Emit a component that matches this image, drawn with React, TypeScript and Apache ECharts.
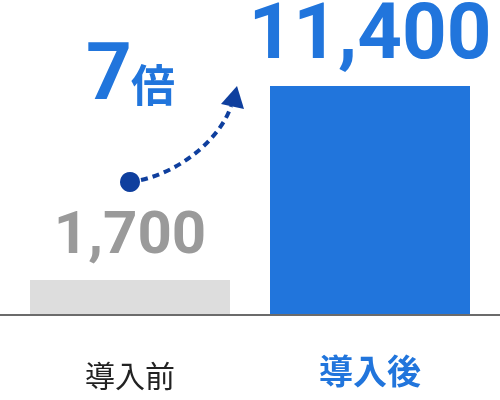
import React, { useEffect, useRef } from "react";
import * as echarts from "echarts";

const categories = ["導入前", "導入後"];
const values = [1700, 11400];
const ratioLabel = "7";
const ratioUnit = "倍";

const BLUE = "#2175dc";
const DARK_BLUE = "#0f3f9e";

export default function App() {
  const ref = useRef<HTMLDivElement>(null);
  useEffect(() => {
    if (!ref.current) return;
    const chart = echarts.init(ref.current, undefined, { renderer: "svg" });
    chart.setOption({
      animation: false,
      grid: { left: 10, right: 10, top: 14, bottom: 86 },
      xAxis: {
        type: "category",
        data: categories,
        axisLine: { show: false },
        axisTick: { show: false },
        axisLabel: {
          margin: 38,
          formatter: (v: string, i: number) => (i === 1 ? `{b|${v}}` : `{a|${v}}`),
          rich: {
            a: { fontSize: 30, color: "#222", fontFamily: "Noto Sans CJK JP", fontWeight: "normal", padding: [7, 0, 0, 0] },
            b: { fontSize: 34, color: BLUE, fontFamily: "Noto Sans CJK JP", fontWeight: "bold" },
          },
        },
      },
      yAxis: { type: "value", min: 0, max: 15000, show: false },
      series: [
        {
          type: "bar",
          barWidth: 200,
          data: values.map((v, i) => ({
            value: v,
            itemStyle: { color: i === 0 ? "#dddddd" : BLUE },
            label: {
              show: true,
              position: "top",
              distance: i === 0 ? 18 : 16,
              fontFamily: "Roboto",
              fontWeight: "bold",
              fontSize: i === 0 ? 60 : 78,
              color: i === 0 ? "#9a9a9a" : BLUE,
              formatter: (p: any) => Number(p.value).toLocaleString("en-US"),
            },
          })),
        },
      ],
      graphic: [
        {
          type: "line",
          shape: { x1: 0, y1: 315, x2: 500, y2: 315 },
          style: { stroke: "#6b6b6b", lineWidth: 2 },
        },
        {
          type: "bezierCurve",
          shape: { x1: 141, y1: 180, cpx1: 185, cpy1: 170, cpx2: 222, cpy2: 135, x2: 231, y2: 106 },
          style: { stroke: DARK_BLUE, lineWidth: 4, lineDash: [7, 5], fill: null },
        },
        {
          type: "polygon",
          shape: { points: [[221, 104], [237, 86], [244, 109]] },
          style: { fill: DARK_BLUE },
        },
        {
          type: "circle",
          shape: { cx: 130, cy: 182, r: 10 },
          style: { fill: DARK_BLUE },
        },
        {
          type: "text",
          x: 86,
          y: 72,
          style: {
            text: ratioLabel,
            fontFamily: "Roboto",
            fontWeight: "bold",
            fontSize: 80,
            fill: BLUE,
            align: "left",
            verticalAlign: "middle",
          },
        },
        {
          type: "text",
          x: 131,
          y: 83,
          style: {
            text: ratioUnit,
            fontFamily: "Noto Sans CJK JP",
            fontWeight: "bold",
            fontSize: 44,
            fill: BLUE,
            align: "left",
            verticalAlign: "middle",
          },
        },
      ],
    });
    return () => chart.dispose();
  }, []);
  return <div ref={ref} style={{ position: "fixed", left: 0, top: 0, width: 500, height: 400 }} />;
}
